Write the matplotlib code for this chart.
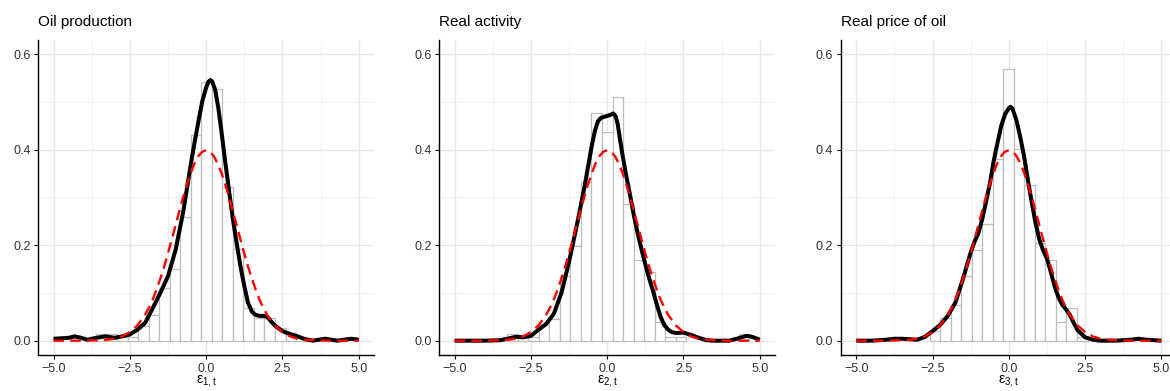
import matplotlib
matplotlib.use('Agg')
import matplotlib.pyplot as plt
import numpy as np

plt.rcParams['font.family'] = ['Liberation Sans', 'DejaVu Sans']

titles = ['Oil production', 'Real activity', 'Real price of oil']
xlabels = [r'$\mathregular{ε_{1,t}}$', r'$\mathregular{ε_{2,t}}$', r'$\mathregular{ε_{3,t}}$']

# histogram (density scale), bin width and first left edge per panel
bin_width = 0.345
hist_start = [-3.607, -3.274, -2.596]
hist1 = [0.014, 0.014, 0.007, 0.007, 0.030, 0.054, 0.110, 0.151, 0.260, 0.431,
         0.541, 0.527, 0.322, 0.192, 0.068, 0.047, 0.047, 0.027, 0.016, 0.007]
hist2 = [0.014, 0.007, 0.007, 0.033, 0.046, 0.135, 0.199, 0.333, 0.476, 0.437,
         0.511, 0.286, 0.169, 0.143, 0.040, 0.007, 0.007, 0, 0, 0,
         0, 0, 0.014]
hist3 = [0.020, 0.047, 0.075, 0.135, 0.190, 0.245, 0.380, 0.570, 0.401, 0.326,
         0.204, 0.169, 0.040, 0.068, 0.007]

# kernel density (black line)
kde1_x = [-5, -4.75, -4.5, -4.3, -4.1, -3.9, -3.6, -3.3, -3.0, -2.75, -2.5, -2.25,
          -2.0, -1.75, -1.5, -1.25, -1.0, -0.75, -0.5, -0.37, -0.25, -0.12, 0,
          0.07, 0.14, 0.2, 0.3, 0.4, 0.5, 0.62, 0.75, 0.87, 1.0, 1.12, 1.25,
          1.37, 1.5, 1.62, 1.75, 1.87, 2.0, 2.12, 2.25, 2.5, 2.75, 3.0, 3.25,
          3.5, 3.9, 4.3, 4.75, 5]
kde1_y = [0.004, 0.005, 0.006, 0.009, 0.006, 0.002, 0.006, 0.009, 0.006, 0.009,
          0.013, 0.023, 0.037, 0.068, 0.100, 0.135, 0.190, 0.270, 0.370, 0.418,
          0.460, 0.503, 0.530, 0.542, 0.546, 0.543, 0.525, 0.488, 0.440, 0.378,
          0.315, 0.258, 0.205, 0.158, 0.115, 0.080, 0.061, 0.054, 0.052, 0.052,
          0.050, 0.041, 0.032, 0.020, 0.014, 0.009, 0.003, 0.0, 0.004, 0.0,
          0.004, 0.002]
kde2_x = [-5, -4, -3.5, -3.2, -3.0, -2.75, -2.5, -2.25, -2.0, -1.75, -1.5, -1.25,
          -1.0, -0.75, -0.5, -0.4, -0.3, -0.2, -0.1, 0, 0.1, 0.2, 0.28, 0.35,
          0.42, 0.5, 0.62, 0.75, 0.87, 1.0, 1.12, 1.25, 1.37, 1.5, 1.62, 1.75,
          1.87, 2.0, 2.12, 2.25, 2.5, 2.75, 3.0, 3.25, 3.5, 4.0, 4.25, 4.5, 4.6,
          4.75, 5.0]
kde2_y = [0, 0, 0.001, 0.005, 0.008, 0.007, 0.010, 0.023, 0.035, 0.056, 0.100,
          0.165, 0.240, 0.320, 0.410, 0.440, 0.460, 0.467, 0.469, 0.471, 0.473,
          0.476, 0.470, 0.452, 0.422, 0.390, 0.347, 0.305, 0.264, 0.225, 0.193,
          0.160, 0.132, 0.105, 0.077, 0.050, 0.033, 0.023, 0.018, 0.016, 0.017,
          0.012, 0.006, 0.001, 0, 0, 0.004, 0.009, 0.010, 0.008, 0.002]
kde3_x = [-5, -4.5, -4, -3.75, -3.5, -3.0, -2.75, -2.5, -2.25, -2.0, -1.75, -1.5,
          -1.25, -1.12, -1.0, -0.87, -0.75, -0.62, -0.5, -0.37, -0.25, -0.12, 0,
          0.05, 0.12, 0.25, 0.37, 0.5, 0.62, 0.75, 0.87, 1.0, 1.12, 1.25, 1.37,
          1.5, 1.62, 1.75, 1.87, 2.0, 2.12, 2.25, 2.5, 2.75, 3.0, 3.5, 4.0, 4.25,
          4.5, 5]
kde3_y = [0, 0, 0.002, 0.004, 0.004, 0.002, 0.008, 0.020, 0.033, 0.052, 0.080,
          0.130, 0.185, 0.208, 0.225, 0.255, 0.290, 0.330, 0.375, 0.415, 0.450,
          0.475, 0.487, 0.490, 0.486, 0.462, 0.428, 0.386, 0.338, 0.290, 0.248,
          0.212, 0.190, 0.172, 0.145, 0.114, 0.092, 0.075, 0.066, 0.054, 0.038,
          0.022, 0.007, 0.002, 0, 0, 0.002, 0.004, 0.002, 0]

# standard normal reference (red dashed)
norm_x = [-5, -4.5, -4, -3.5, -3.25, -3, -2.75, -2.5, -2.25, -2, -1.875, -1.75,
          -1.625, -1.5, -1.375, -1.25, -1.125, -1, -0.875, -0.75, -0.625, -0.5,
          -0.375, -0.25, -0.125, 0, 0.125, 0.25, 0.375, 0.5, 0.625, 0.75, 0.875,
          1, 1.125, 1.25, 1.375, 1.5, 1.625, 1.75, 1.875, 2, 2.25, 2.5, 2.75, 3,
          3.25, 3.5, 4, 4.5, 5]
norm_y = [0, 0, 0, 0.001, 0.002, 0.004, 0.009, 0.018, 0.032, 0.054, 0.069,
          0.086, 0.107, 0.130, 0.155, 0.183, 0.212, 0.242, 0.272, 0.301, 0.328,
          0.352, 0.372, 0.387, 0.396, 0.399, 0.396, 0.387, 0.372, 0.352, 0.328,
          0.301, 0.272, 0.242, 0.212, 0.183, 0.155, 0.130, 0.107, 0.086, 0.069,
          0.054, 0.032, 0.018, 0.009, 0.004, 0.002, 0.001, 0, 0, 0]

hists = [hist1, hist2, hist3]
kdes = [(kde1_x, kde1_y), (kde2_x, kde2_y), (kde3_x, kde3_y)]

fig = plt.figure(figsize=(11.7, 3.91), dpi=100)
lefts = [0.0327, 0.3755, 0.7188]

for i in range(3):
    ax = fig.add_axes([lefts[i], 0.0921, 0.2869, 0.8056])
    ax.set_xlim(-5.5, 5.5)
    ax.set_ylim(-0.03, 0.63)

    # grid
    ax.set_xticks([-5, -2.5, 0, 2.5, 5])
    ax.set_xticklabels(['\u22125.0', '\u22122.5', '0.0', '2.5', '5.0'])
    ax.set_yticks([0, 0.2, 0.4, 0.6])
    ax.set_yticklabels(['0.0', '0.2', '0.4', '0.6'])
    ax.set_xticks([-3.75, -1.25, 1.25, 3.75], minor=True)
    ax.set_yticks([0.1, 0.3, 0.5], minor=True)
    ax.grid(which='major', color='#e6e6e6', linewidth=0.9)
    ax.grid(which='minor', color='#f1f1f1', linewidth=0.7)
    ax.tick_params(which='minor', length=0)
    ax.tick_params(which='major', length=3, width=0.8, color='black',
                   labelsize=9, labelcolor='#333333', pad=2.5)
    ax.set_axisbelow(True)

    for s in ['top', 'right']:
        ax.spines[s].set_visible(False)
    for s in ['left', 'bottom']:
        ax.spines[s].set_linewidth(1.0)

    h = np.array(hists[i])
    edges = hist_start[i] + bin_width * np.arange(len(h))
    keep = h > 0
    ax.bar(edges[keep], h[keep], width=bin_width, align='edge',
           color='white', edgecolor='#bdbdbd', linewidth=0.9, zorder=2)

    ax.plot(kdes[i][0], kdes[i][1], color='black', linewidth=2.9, zorder=3,
            solid_joinstyle='round', solid_capstyle='butt')
    ax.plot(norm_x, norm_y, color='red', linewidth=1.7, linestyle=(0, (4.5, 2.6)),
            zorder=4)

    ax.set_title(titles[i], loc='left', fontsize=11, pad=10)
    ax.set_xlabel(xlabels[i], fontsize=10, labelpad=-1)

fig.savefig('out.png', dpi=100)
